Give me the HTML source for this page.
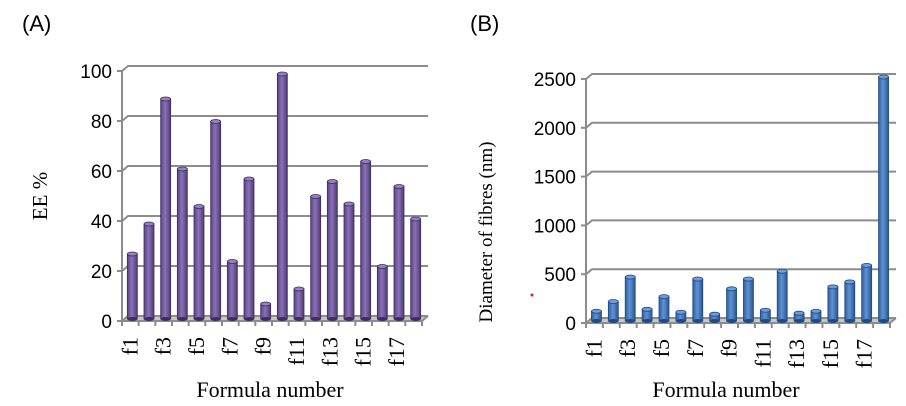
<!DOCTYPE html>
<html><head><meta charset="utf-8"><style>
html,body{margin:0;padding:0;background:#fff;}
svg{display:block;}
</style></head><body>
<svg id="s" width="906" height="406" xmlns="http://www.w3.org/2000/svg">
<text x="22" y="31" font-family="Liberation Sans, sans-serif" font-size="22">(A)</text>
<text x="470" y="31" font-family="Liberation Sans, sans-serif" font-size="22">(B)</text>
<text transform="translate(47,196) rotate(-90)" text-anchor="middle" font-family="Liberation Serif, serif" font-size="21">EE %</text>
<text transform="translate(492,232) rotate(-90)" text-anchor="middle" font-family="Liberation Serif, serif" font-size="19">Diameter of fibres  (nm)</text>
<text x="270" y="397" text-anchor="middle" font-family="Liberation Serif, serif" font-size="22">Formula number</text>
<text x="726" y="397" text-anchor="middle" font-family="Liberation Serif, serif" font-size="22">Formula number</text>
<circle cx="532" cy="295" r="1.5" fill="#e02020"/>
<defs>
<linearGradient id="gp" x1="0" x2="1"><stop offset="0" stop-color="#5a4382"/><stop offset="0.45" stop-color="#8a72b8"/><stop offset="1" stop-color="#4e3a72"/></linearGradient>
<linearGradient id="gb" x1="0" x2="1"><stop offset="0" stop-color="#2f5f9e"/><stop offset="0.45" stop-color="#5f92d4"/><stop offset="1" stop-color="#2a558f"/></linearGradient>
</defs>
</svg>
<script>
const categories=["f1","f2","f3","f4","f5","f6","f7","f8","f9","f10","f11","f12","f13","f14","f15","f16","f17","f18"];
const eeValues=[26,38,88,60,45,79,23,56,6,98,12,49,55,46,63,21,53,40];
const diameterValues=[100,200,450,120,250,90,430,70,330,430,110,510,80,100,350,400,570,2500];
const eeTicks=[0,20,40,60,80,100];
const diameterTicks=[0,500,1000,1500,2000,2500];
const NS="http://www.w3.org/2000/svg";
const svg=document.getElementById('s');
function mk(tag,attrs,parent){const e=document.createElementNS(NS,tag);for(const k in attrs)e.setAttribute(k,attrs[k]);(parent||svg).appendChild(e);return e;}
function chart(o){
  const g=mk('g',{});
  
  
  const y=v=>o.y0-(v/o.max)*(o.y0-o.yTop);
  const dx=6,dy=5;
  mk('polygon',{points:`${o.x0},${o.y0} ${o.x0+dx},${o.y0-dy} ${o.x1+dx},${o.y0-dy} ${o.x1},${o.y0}`,fill:'#c8c8c8'},g);
  o.ticks.forEach(t=>{
    const yy=y(t);
    const gl=mk('polyline',{points:`${o.x0},${yy} ${o.x0+dx},${yy-dy} ${o.x1+dx},${yy-dy}`,fill:'none',stroke:'#8c8c8c','stroke-width':2},g);
    
    
    mk('line',{x1:o.x0-5,y1:yy,x2:o.x0,y2:yy,stroke:'#8c8c8c','stroke-width':2},g);
    const tl=mk('text',{x:o.x0-10,y:yy+7,'text-anchor':'end','font-family':'Liberation Sans, sans-serif','font-size':19,fill:'#000'},g);
    tl.textContent=t;
    
    
  });
  mk('line',{x1:o.x0,y1:y(o.max),x2:o.x0,y2:o.y0,stroke:'#8c8c8c','stroke-width':2},g);
  mk('line',{x1:o.x0,y1:o.y0,x2:o.x1,y2:o.y0,stroke:'#8c8c8c','stroke-width':2},g);
  mk('line',{x1:o.x1,y1:o.y0,x2:o.x1+dx,y2:o.y0-dy,stroke:'#8c8c8c','stroke-width':2},g);
  const n=categories.length, step=(o.x1-o.x0)/n;
  for(let i=0;i<=n;i++){mk('line',{x1:o.x0+i*step,y1:o.y0,x2:o.x0+i*step,y2:o.y0+5,stroke:'#8c8c8c','stroke-width':2},g);}
  o.values.forEach((v,i)=>{
    const cx=o.x0+(i+0.5)*step+2, w=10, top=y(v)-2, bot=o.y0-2;
    const b=mk('g',{},g);
    
    
    mk('rect',{x:cx-w/2,y:top,width:w,height:bot-top,fill:o.grad,stroke:o.dark,'stroke-width':0.8},b);
    mk('ellipse',{cx:cx,cy:bot,rx:w/2,ry:2,fill:o.dark},b);
    mk('ellipse',{cx:cx,cy:top,rx:w/2,ry:2,fill:o.topc,stroke:o.dark,'stroke-width':0.8},b);
  });
  categories.forEach((c,i)=>{
    if(i%2) return;
    const cx=o.x0+(i+0.5)*step+7;
    const t=mk('text',{transform:`translate(${cx},${o.y0+16}) rotate(-90)`,'text-anchor':'end','font-family':'Liberation Serif, serif','font-size':22},g);
    t.textContent=c;
    
    
  });
}
chart({name:'chart-a-ee',x0:122,x1:422,y0:321,yTop:71,max:100,values:eeValues,ticks:eeTicks,grad:'url(#gp)',dark:'#3f2d60',topc:'#9580c0'});
chart({name:'chart-b-diameter',x0:586,x1:890,y0:323,yTop:79,max:2500,values:diameterValues,ticks:diameterTicks,grad:'url(#gb)',dark:'#234a80',topc:'#6c9ddc'});
</script>
</body></html>
